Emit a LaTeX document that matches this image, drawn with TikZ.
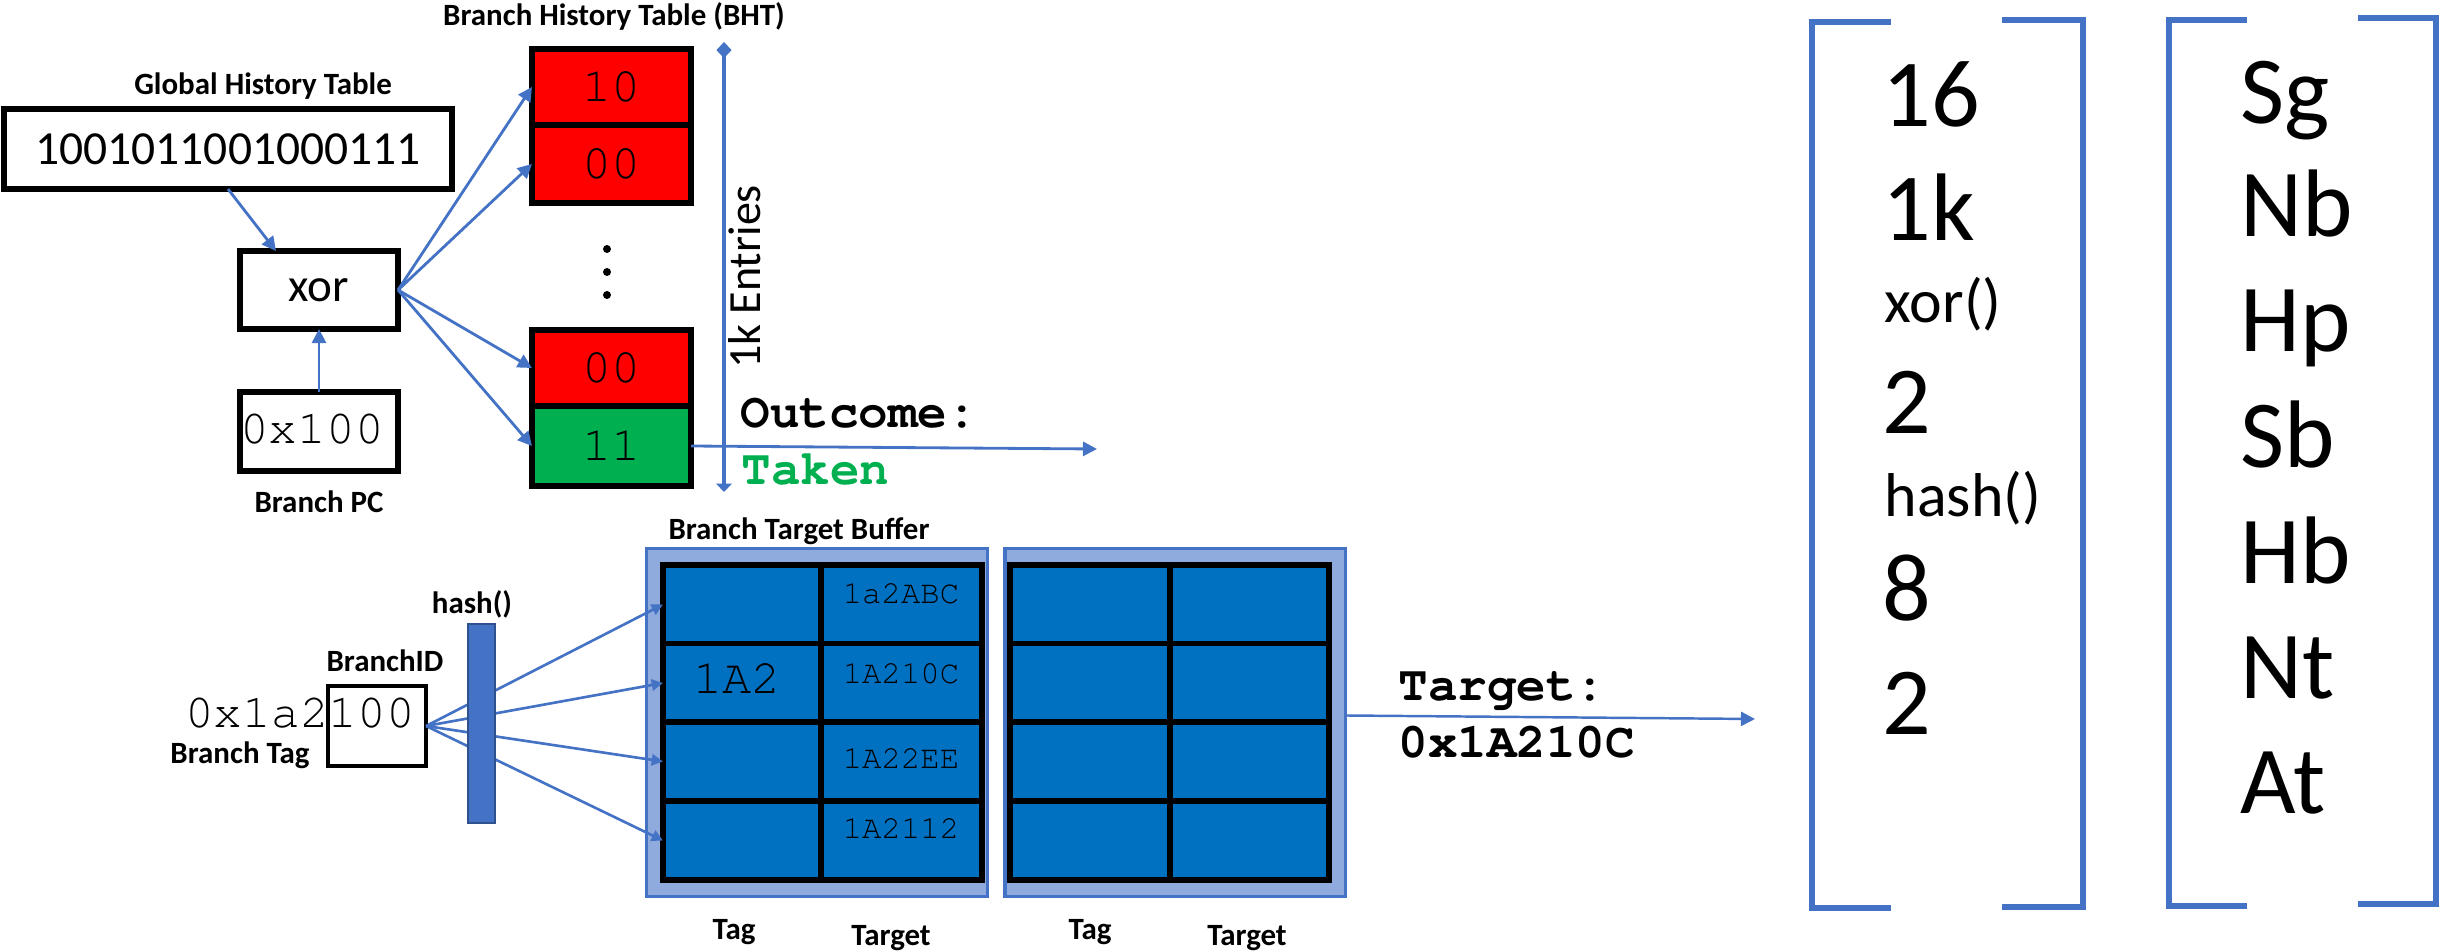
\documentclass[tikz,border=0pt]{standalone}
\usepackage{fontspec}
\setmainfont{Carlito}
\newfontfamily\cour{TeX Gyre Cursor}
\usetikzlibrary{arrows.meta}
\definecolor{linkblue}{HTML}{4472C4}
\definecolor{barrim}{HTML}{2F528F}
\definecolor{cellblue}{HTML}{0070C0}
\definecolor{paneblue}{HTML}{8FAADC}
\definecolor{bhtred}{HTML}{FF0000}
\definecolor{bhtgreen}{HTML}{00B050}
\newcommand\fsz[1]{\fontsize{#1pt}{#1pt}\selectfont}
\tikzset{
  box/.style={draw=black, line width=1.6pt, inner sep=0pt, outer sep=0pt},
  arr/.style={draw=linkblue, line width=0.8pt, -{Triangle[length=4pt,width=4pt]}},
  smallarr/.style={draw=linkblue, line width=0.75pt, -{Triangle[length=3.2pt,width=3.2pt]}},
  lbl/.style={font=\bfseries\fsz{8.8}, inner sep=0pt, anchor=base},
  bhtcell/.style={box, minimum width=1.59cm, font=\cour\fsz{13.8}},
  cell/.style={draw=black, line width=1.5pt, fill=cellblue, inner sep=0pt, outer sep=0pt, minimum height=0.79cm},
  pane/.style={draw=linkblue, line width=0.9pt, fill=paneblue, inner sep=0pt, minimum width=3.40cm, minimum height=3.47cm},
  brk/.style={draw=linkblue, line width=1.6pt, line join=miter},
  big/.style={anchor=base west, inner sep=0pt, font=\fsz{27.3}},
  small/.style={anchor=base west, inner sep=0pt, font=\fsz{17.6}},
  mono/.style={anchor=base, inner sep=0pt, font=\cour\fsz{9.2}},
  boldmono/.style={anchor=base west, inner sep=0pt, font=\cour\bfseries\fsz{14}},
}
\begin{document}
\begin{tikzpicture}[x=0.01cm, y=-0.01cm]
\useasboundingbox (0,0) rectangle (2440,952);

% ---------- global history, xor and branch history table ----------
\node[lbl] (ghtlbl) at (263,95) {Global History Table};
\node[box, minimum width=4.48cm, minimum height=0.80cm, font=\fsz{13.5}] (ght) at (228,149) {1001011001000111};
\node[box, minimum width=1.58cm, minimum height=0.78cm, font=\fsz{13.4}] (xor) at (319,290) {xor};
\node[box, minimum width=1.58cm, minimum height=0.79cm] (pc) at (319,431.5) {};
\node[anchor=base, inner sep=0pt, font=\cour\fsz{13.6}] (pctxt) at (312,443) {0x100};
\node[lbl] (pclbl) at (319,512) {Branch PC};

\node[lbl] (bhtlbl) at (614,26) {Branch History Table (BHT)};
\node[bhtcell, fill=bhtred, minimum height=0.76cm] (bht1) at (611.5,87) {10};
\node[bhtcell, fill=bhtred, minimum height=0.78cm] (bht2) at (611.5,164) {00};
\node[bhtcell, fill=bhtred, minimum height=0.76cm] (bht3) at (611.5,368) {00};
\node[bhtcell, fill=bhtgreen, minimum height=0.80cm] (bht4) at (611.5,446) {11};
\foreach \yy in {249,272,295} \fill (607,\yy) circle[radius=0.04cm];

\draw[arr] (ght.south) -- ([xshift=-0.43cm]xor.north);
\draw[arr] (pc.north) -- (xor.south);
\foreach \t in {bht1,bht2,bht3,bht4} \draw[arr] (xor.east) -- (\t.west);

% table height marker
\coordinate (vtop) at (724,42);
\coordinate (vbot) at (724,492);
\draw[draw=linkblue, line width=1.1pt, {Diamond[length=4.6pt,width=4.3pt]}-{Triangle[length=2.4pt,width=4.4pt]}] (vtop) -- (vbot);
\node[rotate=90, anchor=base, inner sep=0pt, font=\fsz{13.1}] (entries) at (760,277) {1k Entries};

% prediction outcome
\coordinate (outc) at (1097,449);
\draw[arr] (bht4.east) -- (outc);
\node[boldmono] (outtxt) at (740,428) {Outcome:};
\node[boldmono, text=bhtgreen] (taken) at (741,485) {Taken};

% ---------- branch target buffer ----------
\node[box, line width=1.3pt, minimum width=0.98cm, minimum height=0.80cm] (bid) at (377,726) {};
\node[anchor=base, inner sep=0pt, font=\cour\fsz{13.6}] (tagtxt) at (300,727) {0x1a2100};
\node[lbl] (bidlbl) at (385,671) {BranchID};
\node[lbl] (taglbl) at (240,763) {Branch Tag};
\node[lbl] (hashlbl) at (472,613) {hash()};

\node[lbl] (btblbl) at (799,539) {Branch Target Buffer};
\node[pane] (btb1) at (817,722.5) {};
\node[pane] (btb2) at (1175,722.5) {};
\foreach \r/\yc in {1/604.5,2/683,3/761.5,4/840.5}{
  \node[cell, minimum width=1.58cm] (a\r) at (742,\yc) {};
  \node[cell, minimum width=1.61cm] (b\r) at (901.5,\yc) {};
  \node[cell, minimum width=1.60cm] (c\r) at (1090,\yc) {};
  \node[cell, minimum width=1.59cm] (d\r) at (1249.5,\yc) {};
}
\node[mono] at (901,603) {1a2ABC};
\node[mono] at (901,683) {1A210C};
\node[mono] at (901,768) {1A22EE};
\node[mono] at (901,838) {1A2112};
\node[anchor=base, inner sep=0pt, font=\cour\fsz{13.8}] at (737,693) {1A2};

\foreach \r in {1,2,3,4} \draw[smallarr] (bid.east) -- (a\r.west);
\node[draw=barrim, line width=0.5pt, fill=linkblue, inner sep=0pt, minimum width=0.27cm, minimum height=1.99cm] (hash) at (481.5,723.5) {};

\node[lbl] at (734,939) {Tag};
\node[lbl] at (891,945) {Target};
\node[lbl] at (1090,939) {Tag};
\node[lbl] at (1247,945) {Target};

% predicted target
\coordinate (tgt) at (1755,719);
\draw[arr, line width=0.7pt] ([yshift=0.07cm]btb2.east) -- (tgt);
\node[boldmono] (tgtlbl) at (1398,700) {Target:};
\node[boldmono] (tgtval) at (1398,757) {0x1A210C};

% ---------- bracketed parameter columns ----------
\draw[brk] (1891,22) -- (1812,22) -- (1812,908) -- (1891,908);
\draw[brk] (2002,20) -- (2083,20) -- (2083,907) -- (2002,907);
\draw[brk] (2247,20) -- (2169,20) -- (2169,906) -- (2247,906);
\draw[brk] (2358,18) -- (2436,18) -- (2436,904) -- (2358,904);

\node[big] at (1882,127) {16};
\node[big] at (1882,241) {1k};
\node[small] at (1884,323) {xor()};
\node[big] at (1882,433) {2};
\node[small] at (1884,516) {hash()};
\node[big] at (1882,620) {8};
\node[big] at (1882,734) {2};

\node[big] at (2240,124) {Sg};
\node[big] at (2240,237) {Nb};
\node[big] at (2240,352) {Hp};
\node[big] at (2240,467) {Sb};
\node[big] at (2240,583) {Hb};
\node[big] at (2240,698) {Nt};
\node[big] at (2240,813) {At};
\end{tikzpicture}
\end{document}
